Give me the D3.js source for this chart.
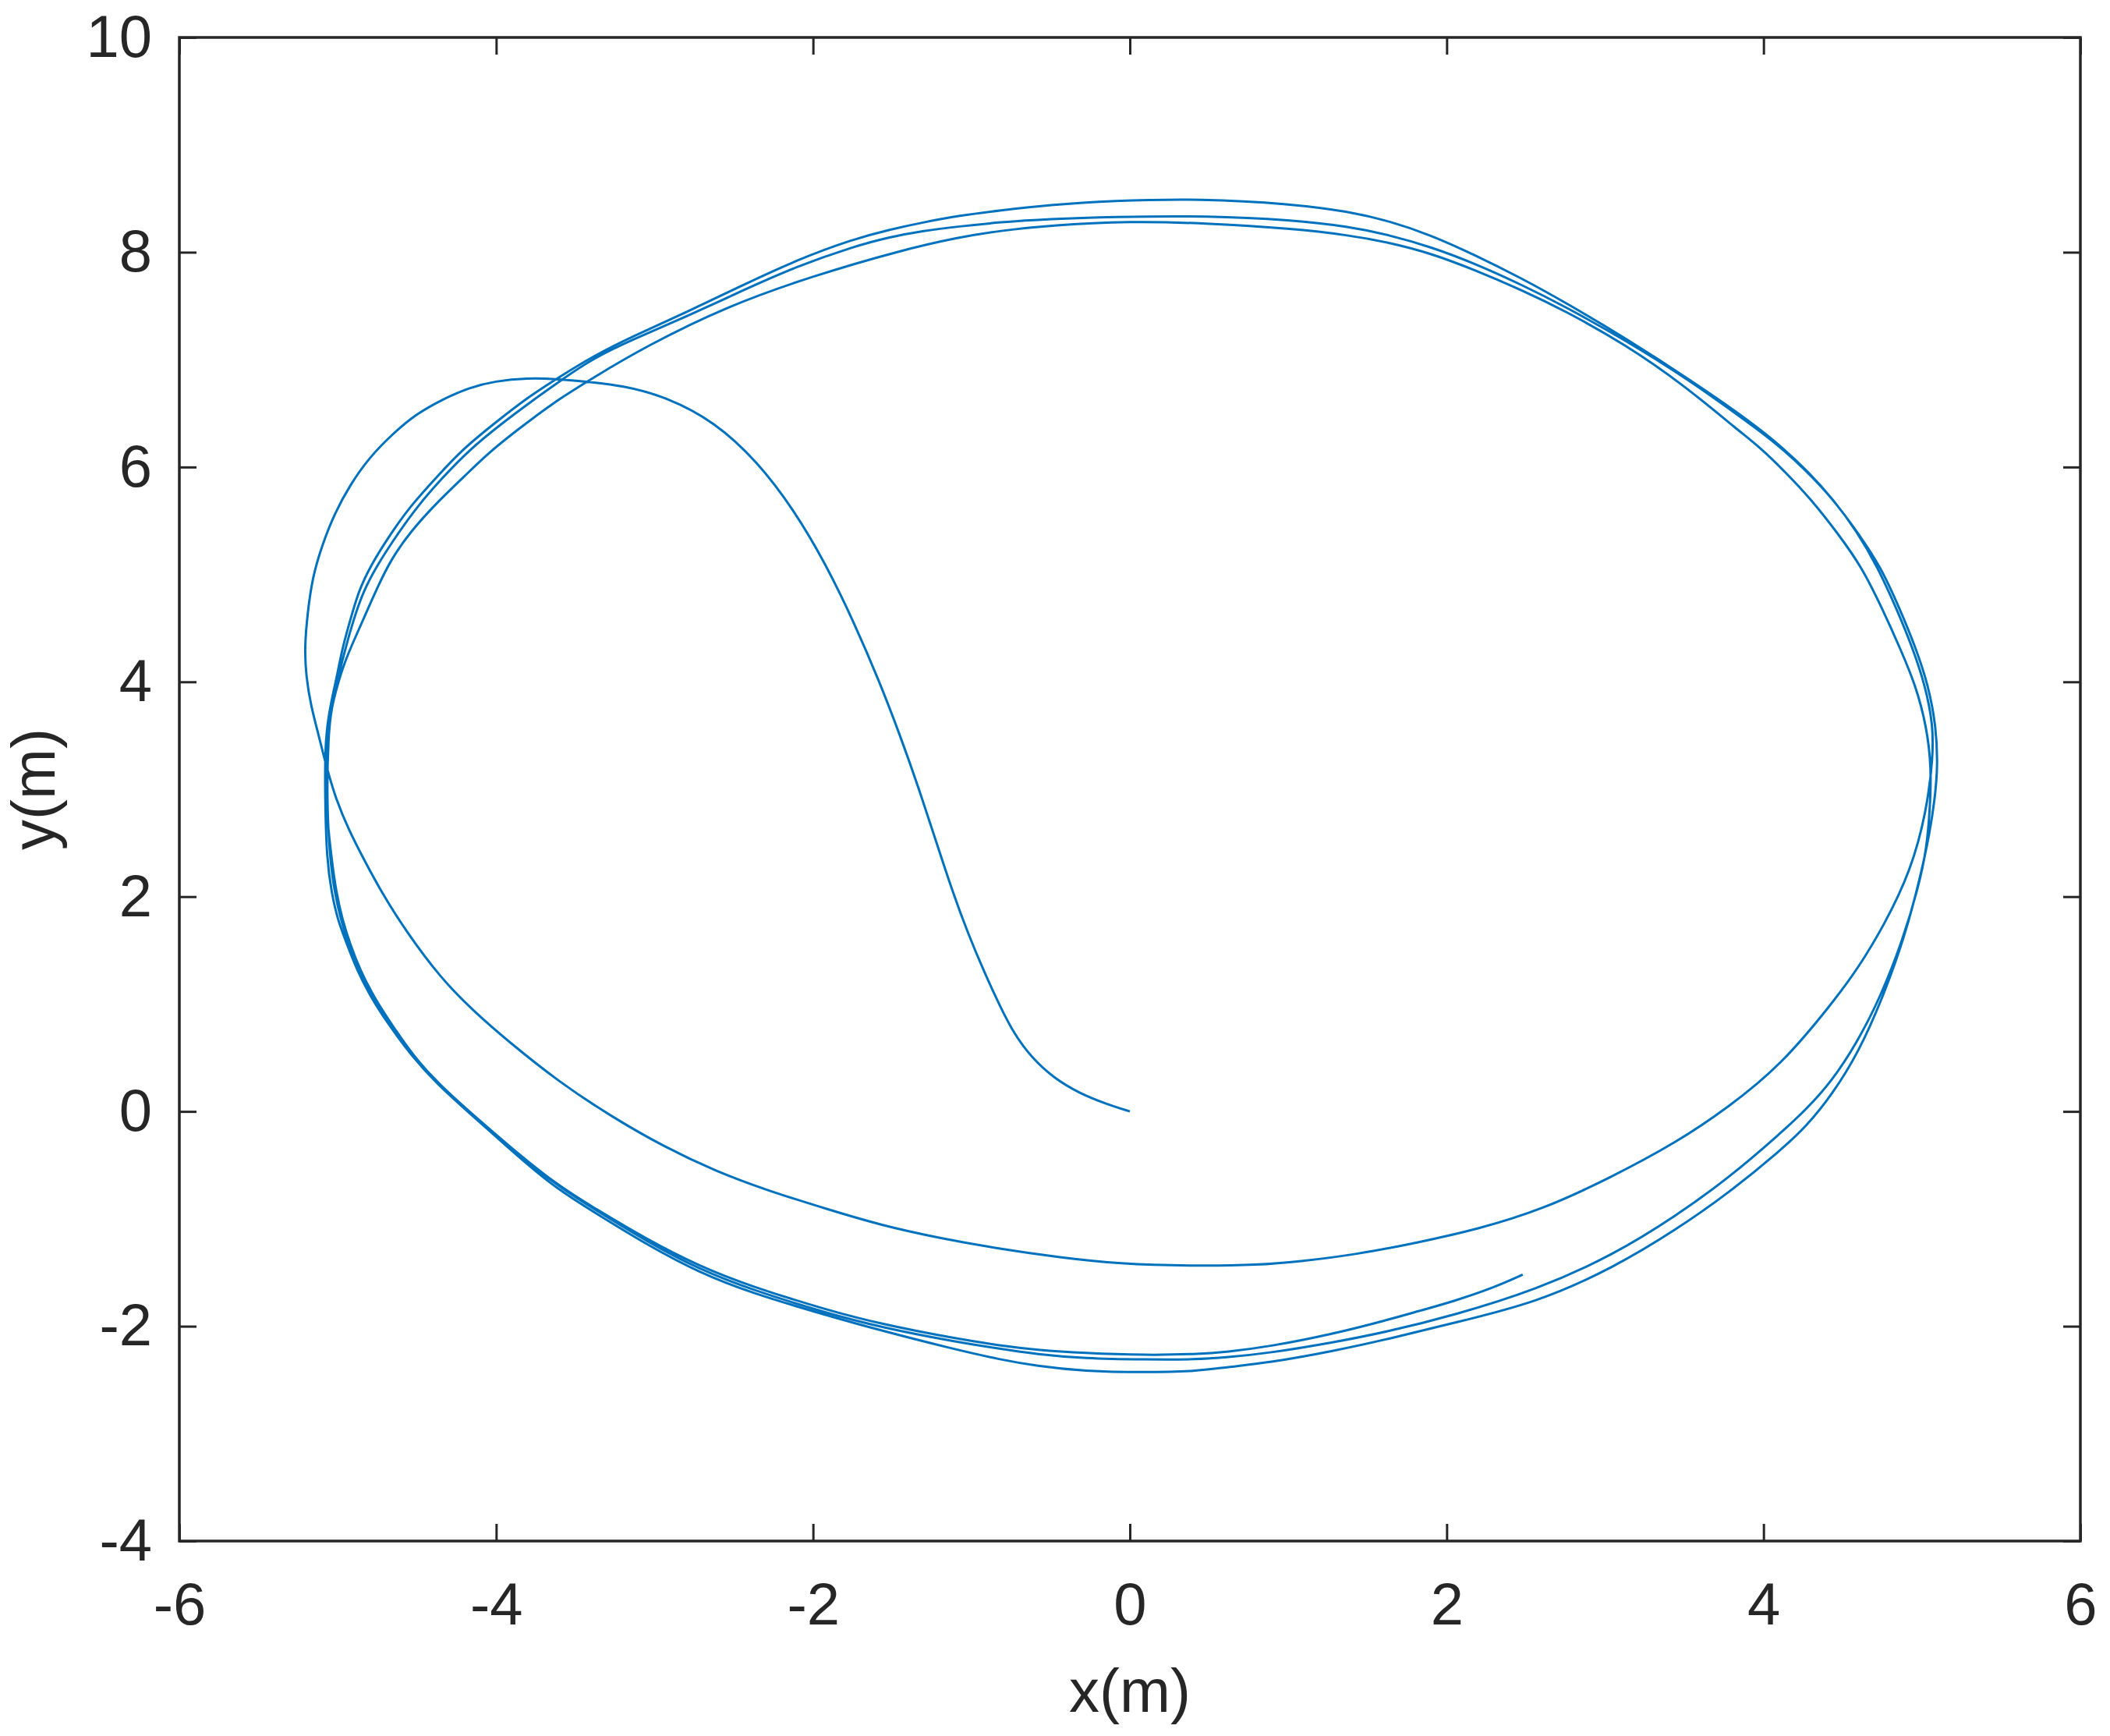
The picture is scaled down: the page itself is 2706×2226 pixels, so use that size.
<!DOCTYPE html>
<html>
<head>
<meta charset="utf-8">
<script src="https://cdn.jsdelivr.net/npm/d3@7"></script>
<style>
  html, body { margin: 0; padding: 0; background: #ffffff; }
  svg { display: block; }
</style>
</head>
<body>
<svg id="chart" width="2706" height="2226"></svg>
<script>
// ---------- data ----------
const xTicks = [-6, -4, -2, 0, 2, 4, 6];
const yTicks = [-4, -2, 0, 2, 4, 6, 8, 10];
const xDomain = [-6, 6];
const yDomain = [-4, 10];
const xLabel = "x(m)";
const yLabel = "y(m)";

// trajectory, in order of travel
const startCurve = [[0,0],[-0.15,0.07],[-0.32,0.17],[-0.48,0.31],[-0.62,0.50],[-0.73,0.72],[-0.82,0.98],[-0.92,1.30],[-1.02,1.65],[-1.12,2.05],[-1.22,2.50],[-1.33,3.00],[-1.45,3.50],[-1.58,4.00],[-1.74,4.55],[-1.92,5.10],[-2.12,5.60],[-2.35,6.05],[-2.62,6.42],[-2.92,6.65],[-3.20,6.76],[-3.46,6.80],[-3.62,6.82],[-3.80,6.83]];
const initialLoop = [[-4.01,6.80],[-4.17,6.74],[-4.34,6.63],[-4.51,6.49],[-4.66,6.30],[-4.80,6.09],[-4.92,5.84],[-5.02,5.57],[-5.10,5.27],[-5.16,4.97],[-5.19,4.65],[-5.21,4.32],[-5.20,4.05],[-5.17,3.78],[-5.12,3.50],[-5.07,3.20],[-5.01,2.90],[-4.93,2.62]];
const innerCurve = [[-4.84,2.36],[-4.72,2.03],[-4.57,1.68],[-4.35,1.24],[-4.14,0.93],[-3.93,0.66],[-3.60,0.27],[-3.27,-0.05],[-2.94,-0.33],[-2.61,-0.56],[-2.28,-0.74],[-1.91,-0.91],[-1.57,-1.06],[-1.20,-1.18],[-0.82,-1.28],[-0.44,-1.36],[-0.07,-1.42],[0.40,-1.44],[0.82,-1.43],[1.06,-1.40],[1.44,-1.33],[1.82,-1.22],[2.19,-1.10],[2.61,-0.91],[3.03,-0.62],[3.45,-0.29],[3.78,0.04],[4.11,0.43],[4.43,1.00],[4.60,1.34],[4.76,1.73],[4.93,2.24]];
const lap1 = [[5.03,2.80],[5.07,3.30],[5.07,3.60],[5.02,3.97],[4.94,4.32],[4.84,4.68],[4.72,5.07],[4.59,5.40],[4.44,5.70],[4.28,5.96],[4.12,6.18],[3.94,6.40],[3.55,6.80],[3.13,7.20],[2.74,7.54],[2.47,7.76],[2.17,7.98],[1.90,8.16],[1.64,8.29],[1.38,8.38],[1.02,8.45],[0.45,8.50],[-0.12,8.48],[-0.51,8.44],[-0.82,8.39],[-1.08,8.34],[-1.30,8.28],[-1.52,8.21],[-1.75,8.12],[-2.10,7.93],[-2.45,7.69],[-2.80,7.44],[-3.15,7.21],[-3.39,7.03],[-3.60,6.84],[-3.80,6.65],[-4.00,6.42],[-4.21,6.17],[-4.38,5.90],[-4.54,5.64],[-4.67,5.37],[-4.79,5.09],[-4.87,4.84],[-4.92,4.58],[-4.97,4.32],[-5.00,4.09],[-5.03,3.89],[-5.06,3.67],[-5.08,3.41],[-5.08,2.90],[-5.07,2.36],[-5.04,2.04],[-5.00,1.78],[-4.94,1.55],[-4.88,1.32],[-4.79,1.06],[-4.68,0.81],[-4.53,0.51],[-4.37,0.25],[-4.15,-0.04],[-3.93,-0.33],[-3.65,-0.69],[-3.38,-0.94],[-3.05,-1.24],[-2.72,-1.50],[-2.39,-1.69],[-1.91,-1.90],[-1.57,-2.04],[-1.12,-2.21],[-0.82,-2.31],[-0.59,-2.37],[-0.29,-2.42],[0.10,-2.43],[0.42,-2.42],[0.61,-2.38],[0.88,-2.34],[1.29,-2.23],[1.63,-2.12],[2.04,-1.97],[2.57,-1.78],[3.06,-1.45],[3.45,-1.10],[3.78,-0.76],[4.11,-0.36],[4.27,-0.14],[4.43,0.15],[4.60,0.55],[4.75,1.05],[4.89,1.62],[4.99,2.18],[5.05,2.60]];
const lap2 = [[5.08,2.90],[5.10,3.20],[5.09,3.58],[5.04,3.97],[4.96,4.32],[4.86,4.68],[4.74,5.07],[4.60,5.38],[4.44,5.70],[4.26,5.98],[4.08,6.22],[3.90,6.42],[3.52,6.82],[3.13,7.18],[2.74,7.50],[2.47,7.70],[2.17,7.90],[1.90,8.05],[1.64,8.16],[1.38,8.24],[1.02,8.30],[0.50,8.34],[-0.12,8.33],[-0.51,8.31],[-0.82,8.28],[-1.08,8.24],[-1.30,8.20],[-1.52,8.14],[-1.75,8.05],[-2.10,7.87],[-2.45,7.64],[-2.80,7.40],[-3.15,7.18],[-3.39,7.01],[-3.58,6.82],[-3.77,6.62],[-3.97,6.40],[-4.17,6.16],[-4.34,5.90],[-4.50,5.63],[-4.63,5.36],[-4.75,5.09],[-4.84,4.84],[-4.90,4.58],[-4.95,4.32],[-4.99,4.09],[-5.02,3.89],[-5.05,3.67],[-5.07,3.41],[-5.08,2.90],[-5.04,2.36],[-5.01,2.04],[-4.97,1.78],[-4.92,1.55],[-4.86,1.32],[-4.77,1.06],[-4.66,0.81],[-4.52,0.51],[-4.36,0.25],[-4.14,-0.04],[-3.92,-0.32],[-3.64,-0.67],[-3.37,-0.92],[-3.05,-1.21],[-2.72,-1.47],[-2.39,-1.66],[-1.91,-1.88],[-1.57,-2.01],[-1.12,-2.14],[-0.82,-2.21],[-0.59,-2.26],[-0.29,-2.30],[0.10,-2.31],[0.42,-2.31],[0.61,-2.29],[0.88,-2.25],[1.29,-2.15],[1.63,-2.05],[2.04,-1.90],[2.57,-1.66],[3.06,-1.33],[3.45,-0.97],[3.78,-0.62],[4.11,-0.20],[4.27,0.02],[4.43,0.28],[4.59,0.64],[4.74,1.07],[4.88,1.60],[4.98,2.10],[5.03,2.45]];
const lap3 = [[5.05,2.80],[5.06,3.20],[5.03,3.58],[4.96,3.97],[4.86,4.32],[4.75,4.68],[4.62,5.07],[4.47,5.38],[4.30,5.70],[4.14,5.95],[3.98,6.18],[3.85,6.33],[3.50,6.76],[3.13,7.14],[2.74,7.46],[2.47,7.65],[2.17,7.84],[1.90,7.99],[1.64,8.09],[1.38,8.16],[1.02,8.22],[0.50,8.27],[0.00,8.29],[-0.51,8.25],[-0.82,8.20],[-1.08,8.14],[-1.44,8.02],[-2.00,7.78],[-2.54,7.50],[-3.06,7.12],[-3.39,6.83],[-3.64,6.60],[-3.88,6.33],[-4.05,6.13],[-4.21,5.90],[-4.38,5.66],[-4.54,5.40],[-4.66,5.15],[-4.75,4.88],[-4.83,4.61],[-4.90,4.38],[-4.96,4.17],[-5.00,3.98],[-5.04,3.76],[-5.06,3.50],[-5.07,2.90],[-5.05,2.36],[-5.02,2.04],[-4.98,1.78],[-4.93,1.55],[-4.87,1.32],[-4.78,1.06],[-4.67,0.81],[-4.52,0.51],[-4.36,0.25],[-4.14,-0.04],[-3.92,-0.32],[-3.64,-0.66],[-3.37,-0.91],[-3.05,-1.19],[-2.72,-1.44],[-2.39,-1.63],[-1.91,-1.85],[-1.57,-1.98],[-1.12,-2.11],[-0.82,-2.18],[-0.59,-2.22],[-0.29,-2.25],[0.10,-2.27],[0.42,-2.26],[0.61,-2.24],[0.88,-2.19],[1.29,-2.07],[1.63,-1.94],[1.82,-1.86],[2.04,-1.77],[2.30,-1.64],[2.48,-1.52]];

// ---------- layout ----------
const W = 2706, H = 2226;
const plot = { left: 230, right: 2668, top: 48, bottom: 1976 };
const lineColor = "#0072BD";
const inkColor = "#262626";
const fontFamily = '"Liberation Sans", Arial, sans-serif';

const svg = d3.select("#chart");
svg.append("rect").attr("width", W).attr("height", H).attr("fill", "#ffffff");

const x = d3.scaleLinear().domain(xDomain).range([plot.left, plot.right]);
const y = d3.scaleLinear().domain(yDomain).range([plot.bottom, plot.top]);

// trajectory
const path = [].concat(startCurve, initialLoop, innerCurve, lap1, lap2, lap3);
const line = d3.line().x(d => x(d[0])).y(d => y(d[1])).curve(d3.curveBasis);
svg.append("path")
  .datum(path)
  .attr("d", line)
  .attr("fill", "none")
  .attr("stroke", lineColor)
  .attr("stroke-width", 3)
  .attr("stroke-linejoin", "round");

// axes (ticks pointing inward)
const tickLen = 22;
function styleAxis(g) {
  g.select(".domain").remove();
  g.selectAll(".tick line").attr("stroke", inkColor).attr("stroke-width", 3);
  g.selectAll(".tick text")
    .attr("fill", inkColor)
    .style("font-family", fontFamily)
    .style("font-size", "76px");
}

svg.append("g")
  .attr("transform", `translate(0,${plot.bottom})`)
  .call(d3.axisBottom(x).tickValues(xTicks).tickSize(-tickLen).tickPadding(53).tickFormat(d3.format("d")))
  .call(styleAxis);

svg.append("g")
  .attr("transform", `translate(0,${plot.top})`)
  .call(d3.axisTop(x).tickValues(xTicks).tickSize(-tickLen).tickFormat(""))
  .call(styleAxis);

svg.append("g")
  .attr("transform", `translate(${plot.left},0)`)
  .call(d3.axisLeft(y).tickValues(yTicks).tickSize(-tickLen).tickPadding(35).tickFormat(d3.format("d")))
  .call(styleAxis);

svg.append("g")
  .attr("transform", `translate(${plot.right},0)`)
  .call(d3.axisRight(y).tickValues(yTicks).tickSize(-tickLen).tickFormat(""))
  .call(styleAxis);

// use a plain hyphen for negative labels, as in the original
svg.selectAll(".tick text").text(function() { return this.textContent.replace("\u2212", "-"); });

// frame
svg.append("rect")
  .attr("x", plot.left).attr("y", plot.top)
  .attr("width", plot.right - plot.left).attr("height", plot.bottom - plot.top)
  .attr("fill", "none").attr("stroke", inkColor).attr("stroke-width", 3.5);

// axis titles
svg.append("text")
  .attr("x", (plot.left + plot.right) / 2)
  .attr("y", 2195)
  .attr("text-anchor", "middle")
  .attr("fill", inkColor)
  .style("font-family", fontFamily)
  .style("font-size", "78px")
  .text(xLabel);

svg.append("text")
  .attr("transform", `translate(70,${(plot.top + plot.bottom) / 2}) rotate(-90)`)
  .attr("text-anchor", "middle")
  .attr("fill", inkColor)
  .style("font-family", fontFamily)
  .style("font-size", "78px")
  .text(yLabel);
</script>
</body>
</html>
